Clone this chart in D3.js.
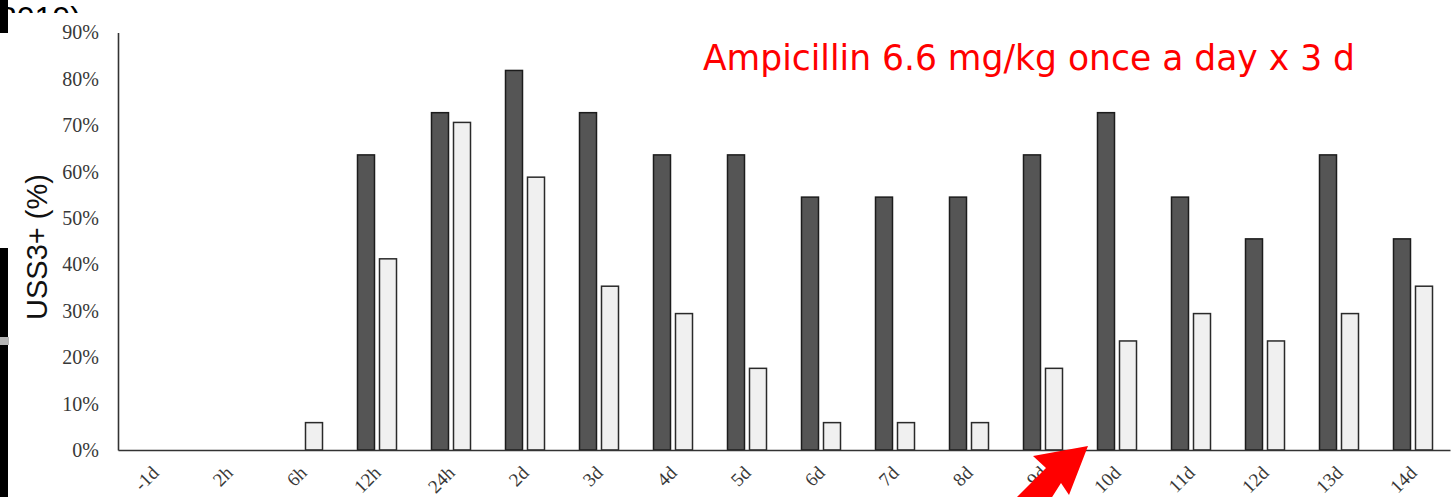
<!DOCTYPE html>
<html lang="en">
<head>
<meta charset="UTF-8">
<title>USS3+ after ampicillin</title>
<script src="https://d3js.org/d3.v7.min.js"></script>
<style>
    body { margin: 0; background: #fff; }
    svg { display: block; }
    .tick text { font-family: "Liberation Serif", "Times New Roman", serif; font-size: 20px; fill: #383838; }
    .xaxis .tick text { font-size: 19px; }
    .domain { stroke: #333; stroke-width: 1.6px; }
</style>
</head>
<body>
<svg width="1453" height="497"></svg>
<script>
    // data
    const days = ["-1d", "2h", "6h", "12h", "24h", "2d", "3d", "4d", "5d", "6d",
                  "7d", "8d", "9d", "10d", "11d", "12d", "13d", "14d"];
    const darkSeries = [0, 0, 0, 63.6, 72.7, 81.8, 72.7, 63.6, 63.6, 54.5,
                        54.5, 54.5, 63.6, 72.7, 54.5, 45.5, 63.6, 45.5];
    const lightSeries = [0, 0, 5.9, 41.2, 70.6, 58.8, 35.3, 29.4, 17.6, 5.9,
                         5.9, 5.9, 17.6, 23.5, 29.4, 23.5, 29.4, 35.3];
    const yTicks = [0, 10, 20, 30, 40, 50, 60, 70, 80, 90];

    const svg = d3.select("svg");

    // slide leftovers behind the pasted chart
    svg.append("clipPath").attr("id", "topcut")
        .append("rect").attr("x", 0).attr("y", 0).attr("width", 200).attr("height", 13);
    svg.append("text")
        .attr("x", -1).attr("y", 29)
        .attr("clip-path", "url(#topcut)")
        .style("font-family", "Liberation Sans, Arial, sans-serif")
        .style("font-size", "32px")
        .attr("fill", "#000")
        .text("2019)");
    svg.append("rect").attr("x", 0).attr("y", 0).attr("width", 8).attr("height", 33).attr("fill", "#000");
    svg.append("rect").attr("x", 0).attr("y", 248).attr("width", 8).attr("height", 249).attr("fill", "#000");
    svg.append("rect").attr("x", 0).attr("y", 337).attr("width", 9).attr("height", 8).attr("fill", "#b5b5b5");

    const x = d3.scaleBand().domain(days).range([118, 1450]);
    const y = d3.scaleLinear().domain([0, 90]).range([450, 32.4]);

    // y axis
    svg.append("g")
        .attr("transform", "translate(118,0)")
        .call(d3.axisLeft(y).tickValues(yTicks).tickSize(0).tickSizeOuter(0)
            .tickPadding(19).tickFormat(d => d + "%"));

    // bars
    const barW = 17;
    svg.append("g").selectAll("rect")
        .data(darkSeries)
        .join("rect")
        .attr("x", (d, i) => x(days[i]) + x.bandwidth() / 2 - 19.5)
        .attr("y", d => y(d))
        .attr("width", barW)
        .attr("height", d => y(0) - y(d))
        .attr("fill", "#555")
        .attr("stroke", "#1c1c1c")
        .attr("stroke-width", 1.5)
        .style("display", d => d > 0 ? null : "none");

    svg.append("g").selectAll("rect")
        .data(lightSeries)
        .join("rect")
        .attr("x", (d, i) => x(days[i]) + x.bandwidth() / 2 + 2.5)
        .attr("y", d => y(d))
        .attr("width", barW)
        .attr("height", d => y(0) - y(d))
        .attr("fill", "#f0f0f0")
        .attr("stroke", "#2a2a2a")
        .attr("stroke-width", 1.5)
        .style("display", d => d > 0 ? null : "none");

    // x axis, labels turned 45 degrees
    const xAxis = svg.append("g")
        .attr("class", "xaxis")
        .attr("transform", "translate(0,450)")
        .call(d3.axisBottom(x).tickSize(0).tickSizeOuter(0));
    xAxis.selectAll(".tick text")
        .attr("text-anchor", "end")
        .attr("x", 0).attr("y", 0).attr("dy", 0)
        .attr("transform", "translate(5,24) rotate(-45)");

    // y axis title
    svg.append("text")
        .attr("transform", "translate(47,247) rotate(-90)")
        .attr("text-anchor", "middle")
        .style("font-family", "Liberation Sans, Arial, sans-serif")
        .style("font-size", "29px")
        .attr("fill", "#111")
        .text("USS3+ (%)");

    // red annotation
    svg.append("text")
        .attr("x", 703).attr("y", 70)
        .attr("textLength", 652)
        .attr("lengthAdjust", "spacingAndGlyphs")
        .style("font-family", "Liberation Sans Narrow, DejaVu Sans Condensed, Arial Narrow, sans-serif")
        .style("font-size", "35px")
        .attr("fill", "#ff0000")
        .text("Ampicillin 6.6 mg/kg once a day x 3 d");

    // red arrow pointing at the 9d / 10d gap
    svg.append("path")
        .attr("d", "M1088,446 L1033,456 L1046,468 L1014,500 L1042,513 L1061,483 L1069,495 Z")
        .attr("fill", "#ff0000");
</script>
</body>
</html>
